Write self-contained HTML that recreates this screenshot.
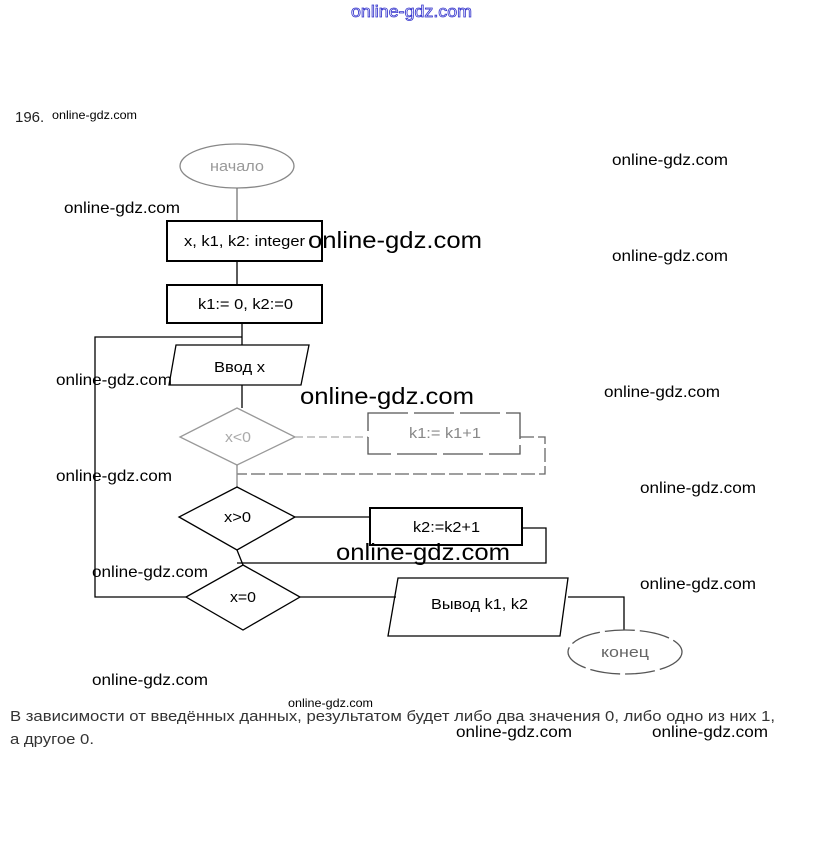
<!DOCTYPE html>
<html><head><meta charset="utf-8"><style>
html,body{margin:0;padding:0;background:#fff;width:823px;height:852px;overflow:hidden}
svg{display:block}
text{font-family:"Liberation Sans","DejaVu Sans",sans-serif}
</style></head><body>
<svg width="823" height="852" viewBox="0 0 823 852" xmlns="http://www.w3.org/2000/svg">
<g font-size="15" fill="#000">
<text x="351" y="17" textLength="121" lengthAdjust="spacingAndGlyphs" fill="none" stroke="#3333cc" stroke-width="0.8" font-size="17">online-gdz.com</text>
<text x="15" y="122" font-size="15" fill="#222">196.</text>
<text x="52" y="119" font-size="12" textLength="85" lengthAdjust="spacingAndGlyphs">online-gdz.com</text>
</g>
<g fill="none" stroke="#000" stroke-width="1.3">
<ellipse cx="237" cy="166" rx="57" ry="22" stroke="#888"/>
<line x1="237" y1="188" x2="237" y2="221" stroke="#777"/>
<rect x="167" y="221" width="155" height="40" stroke-width="2"/>
<line x1="237" y1="261" x2="237" y2="285"/>
<rect x="167" y="285" width="155" height="38" stroke-width="2"/>
<line x1="242" y1="323" x2="242" y2="345"/>
<polyline points="242,337 95,337 95,597 186,597"/>
<polygon points="176,345 309,345 301,385 169,385"/>
<line x1="242" y1="385" x2="242" y2="408"/>
<polygon points="237,408 295,437 237,465 180,437" stroke="#999"/>
<line x1="295" y1="437" x2="368" y2="437" stroke="#aaa" stroke-dasharray="8,4"/>
<rect x="368" y="413" width="152" height="41" stroke="#555" stroke-dasharray="40,6"/>
<polyline points="520,437 545,437 545,474 237,474" stroke="#666" stroke-dasharray="14,4"/>
<line x1="237" y1="465" x2="237" y2="487" stroke="#888"/>
<polygon points="237,487 295,517 237,550 179,517"/>
<line x1="295" y1="517" x2="370" y2="517"/>
<rect x="370" y="508" width="152" height="37" stroke-width="2"/>
<polyline points="522,528 546,528 546,563 237,563"/>
<line x1="237" y1="550" x2="243" y2="565"/>
<polygon points="243,565 300,597 243,630 186,597"/>
<line x1="300" y1="597" x2="396" y2="597"/>
<polygon points="398,578 568,578 560,636 388,636"/>
<polyline points="568,597 624,597 624,630"/>
<ellipse cx="625" cy="652" rx="57" ry="22" stroke="#555" stroke-dasharray="30,5"/>
</g>
<g font-size="15" fill="#000">
<text x="210" y="171" textLength="54" lengthAdjust="spacingAndGlyphs" fill="#999">начало</text>
<text x="184" y="246" textLength="121" lengthAdjust="spacingAndGlyphs">x, k1, k2: integer</text>
<text x="198" y="309" textLength="95" lengthAdjust="spacingAndGlyphs">k1:= 0, k2:=0</text>
<text x="214" y="372" textLength="51" lengthAdjust="spacingAndGlyphs">Ввод x</text>
<text x="225" y="442" textLength="26" lengthAdjust="spacingAndGlyphs" fill="#aaa">x&lt;0</text>
<text x="409" y="438" textLength="72" lengthAdjust="spacingAndGlyphs" fill="#888">k1:= k1+1</text>
<text x="224" y="522" textLength="27" lengthAdjust="spacingAndGlyphs">x&gt;0</text>
<text x="413" y="532" textLength="67" lengthAdjust="spacingAndGlyphs">k2:=k2+1</text>
<text x="230" y="602" textLength="26" lengthAdjust="spacingAndGlyphs">x=0</text>
<text x="431" y="609" textLength="97" lengthAdjust="spacingAndGlyphs">Вывод k1, k2</text>
<text x="601" y="657" textLength="48" lengthAdjust="spacingAndGlyphs" fill="#666">конец</text>
</g>
<g font-size="15" fill="#333">
<text x="10" y="721" textLength="765" lengthAdjust="spacingAndGlyphs">В зависимости от введённых данных, результатом будет либо два значения 0, либо одно из них 1,</text>
<text x="10" y="744" textLength="84" lengthAdjust="spacingAndGlyphs">а другое 0.</text>
</g>
<g font-size="16" fill="#000">
<text x="612" y="165" textLength="116" lengthAdjust="spacingAndGlyphs">online-gdz.com</text>
<text x="64" y="213" textLength="116" lengthAdjust="spacingAndGlyphs">online-gdz.com</text>
<text x="308" y="248" font-size="23" textLength="174" lengthAdjust="spacingAndGlyphs">online-gdz.com</text>
<text x="612" y="261" textLength="116" lengthAdjust="spacingAndGlyphs">online-gdz.com</text>
<text x="56" y="385" textLength="116" lengthAdjust="spacingAndGlyphs">online-gdz.com</text>
<text x="300" y="404" font-size="23" textLength="174" lengthAdjust="spacingAndGlyphs">online-gdz.com</text>
<text x="604" y="397" textLength="116" lengthAdjust="spacingAndGlyphs">online-gdz.com</text>
<text x="56" y="481" textLength="116" lengthAdjust="spacingAndGlyphs">online-gdz.com</text>
<text x="640" y="493" textLength="116" lengthAdjust="spacingAndGlyphs">online-gdz.com</text>
<text x="336" y="560" font-size="23" textLength="174" lengthAdjust="spacingAndGlyphs">online-gdz.com</text>
<text x="92" y="577" textLength="116" lengthAdjust="spacingAndGlyphs">online-gdz.com</text>
<text x="640" y="589" textLength="116" lengthAdjust="spacingAndGlyphs">online-gdz.com</text>
<text x="92" y="685" textLength="116" lengthAdjust="spacingAndGlyphs">online-gdz.com</text>
<text x="288" y="707" font-size="12" textLength="85" lengthAdjust="spacingAndGlyphs">online-gdz.com</text>
<text x="456" y="737" textLength="116" lengthAdjust="spacingAndGlyphs">online-gdz.com</text>
<text x="652" y="737" textLength="116" lengthAdjust="spacingAndGlyphs">online-gdz.com</text>
</g>
</svg>
</body></html>
